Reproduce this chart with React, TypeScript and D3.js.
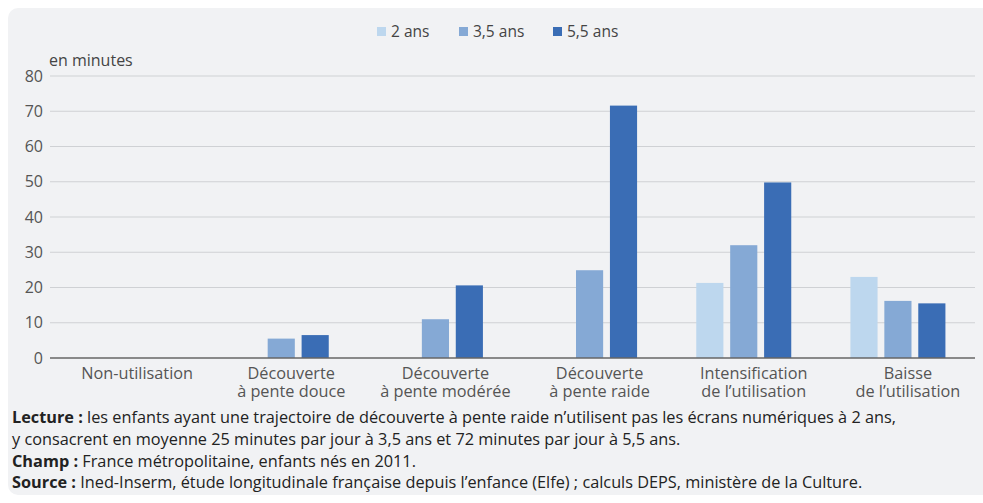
import * as d3 from 'd3';

const categories = [
  ['Non-utilisation'],
  ['Découverte', 'à pente douce'],
  ['Découverte', 'à pente modérée'],
  ['Découverte', 'à pente raide'],
  ['Intensification', 'de l’utilisation'],
  ['Baisse', 'de l’utilisation'],
];
const seriesNames = ['2 ans', '3,5 ans', '5,5 ans'];
const colors = ['#bdd7ee', '#85a9d5', '#3a6db5'];
const ans2 = [null, null, null, null, 21.3, 23.0];
const ans35 = [null, 5.5, 11.0, 24.9, 32.0, 16.2];
const ans55 = [null, 6.5, 20.6, 71.6, 49.8, 15.5];
const yTicks = [0, 10, 20, 30, 40, 50, 60, 70, 80];

const W = 983;
const H = 503;
const font = "'Open Sans', sans-serif";

const App = () => {
  const left = 50;
  const right = 975;
  const top = 76;
  const bottom = 358;
  const values = [ans2, ans35, ans55];

  const x = d3
    .scaleBand<number>()
    .domain(categories.map((_, i) => i))
    .range([left, right])
    .paddingInner(0)
    .paddingOuter(0);
  const groupWidth = 95;
  const inner = d3
    .scaleBand<number>()
    .domain([0, 1, 2])
    .range([0, groupWidth])
    .paddingInner(0.2);
  const y = d3.scaleLinear().domain([0, 80]).range([bottom, top]);

  const legendX = [377, 459, 553];

  return (
    <svg width={W} height={H} style={{ position: 'absolute', left: 0, top: 0 }}>
      <rect x={8} y={8} width={990} height={487} rx={10} fill="#f1f2f4" />
      {/* légende */}
      {seriesNames.map((s, i) => (
        <g key={s}>
          <rect x={legendX[i]} y={27} width={9} height={9} fill={colors[i]} />
          <text x={legendX[i] + 14} y={37} fontFamily={font} fontSize={15.5} fill="#444">
            {s}
          </text>
        </g>
      ))}
      <text x={49} y={66} fontFamily={font} fontSize={16} fill="#444">
        en minutes
      </text>
      {/* grille + axe y */}
      {yTicks.map((t) => (
        <g key={t}>
          {t > 0 && (
            <line x1={left} x2={right} y1={y(t)} y2={y(t)} stroke="#cfd1d4" strokeWidth={1.2} />
          )}
          <text
            x={43}
            y={y(t) + 5.5}
            textAnchor="end"
            fontFamily={font}
            fontSize={16}
            fill="#555"
          >
            {t}
          </text>
        </g>
      ))}
      {/* barres */}
      {categories.map((c, ci) => {
        const gx = (x(ci) as number) + (x.bandwidth() - groupWidth) / 2;
        return (
          <g key={ci}>
            {values.map((serie, si) => {
              const v = serie[ci];
              if (v == null) return null;
              return (
                <rect
                  key={si}
                  x={gx + (inner(si) as number)}
                  y={y(v)}
                  width={inner.bandwidth()}
                  height={y(0) - y(v)}
                  fill={colors[si]}
                />
              );
            })}
            {c.map((line, li) => (
              <text
                key={li}
                x={(x(ci) as number) + x.bandwidth() / 2 + 10}
                y={bottom + 20.5 + li * 18.5}
                textAnchor="middle"
                fontFamily={font}
                fontSize={16.3}
                fill="#555"
              >
                {line}
              </text>
            ))}
          </g>
        );
      })}
      <line x1={left} x2={right} y1={bottom} y2={bottom} stroke="#666" strokeWidth={1.5} />
      {/* notes */}
      <g fontFamily={font} fontSize={16.3} fill="#222">
        <text x={12} y={423}>
          <tspan fontWeight="bold">Lecture : </tspan>
          les enfants ayant une trajectoire de découverte à pente raide n’utilisent pas les écrans numériques à 2 ans,
        </text>
        <text x={12} y={445}>
          y consacrent en moyenne 25 minutes par jour à 3,5 ans et 72 minutes par jour à 5,5 ans.
        </text>
        <text x={12} y={467}>
          <tspan fontWeight="bold">Champ : </tspan>
          France métropolitaine, enfants nés en 2011.
        </text>
        <text x={12} y={488}>
          <tspan fontWeight="bold">Source : </tspan>
          Ined-Inserm, étude longitudinale française depuis l’enfance (Elfe) ; calculs DEPS, ministère de la Culture.
        </text>
      </g>
    </svg>
  );
};

export default App;
